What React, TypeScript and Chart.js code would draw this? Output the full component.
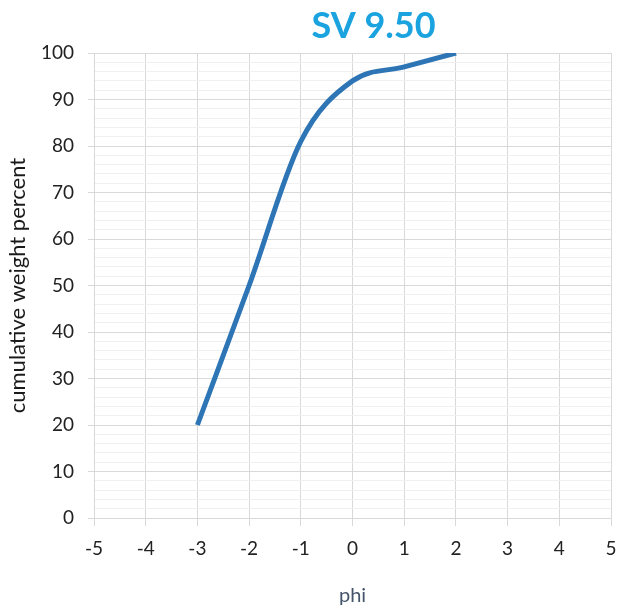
import React, { useEffect, useRef } from "react";
import { Chart, registerables } from "chart.js";

Chart.register(...registerables);

// Cumulative grain-size curve for sample SV 9.50
const phiValues = [-3, -2, -1, 0, 1, 2];
const cumulativePercent = [20, 50, 81, 94, 97, 100];

const chartTitle = "SV 9.50";
const xAxisTitle = "phi";
const yAxisTitle = "cumulative weight percent";

const FONT = "Lato, sans-serif";

// Draws the chart heading in the top padding band
const headingPlugin = {
  id: "heading",
  afterDraw(chart: Chart) {
    const { ctx, chartArea } = chart;
    ctx.save();
    ctx.font = `bold 36px ${FONT}`;
    ctx.fillStyle = "#1BA3E0";
    ctx.textAlign = "center";
    ctx.textBaseline = "middle";
    ctx.fillText(chartTitle, (chartArea.left + chartArea.right) / 2 + 21, 26);
    ctx.restore();
  },
};

export default function App() {
  const canvasRef = useRef<HTMLCanvasElement | null>(null);

  useEffect(() => {
    if (!canvasRef.current) return;
    const chart = new Chart(canvasRef.current, {
      type: "line",
      data: {
        datasets: [
          {
            data: phiValues.map((x, i) => ({ x, y: cumulativePercent[i] })),
            borderColor: "#2E75B6",
            borderWidth: 5,
            pointRadius: 0,
            tension: 0.4,
            cubicInterpolationMode: "monotone",
            fill: false,
          },
        ],
      },
      options: {
        animation: false,
        responsive: true,
        maintainAspectRatio: false,
        layout: { padding: { top: 53, right: 7, left: 0, bottom: 0 } },
        plugins: {
          legend: { display: false },
          tooltip: { enabled: false },
          title: { display: false },
        },
        scales: {
          x: {
            type: "linear",
            min: -5,
            max: 5,
            afterFit: (scale: any) => {
              scale.height = 96;
              scale.paddingLeft = 0;
              scale.paddingRight = 0;
            },
            ticks: {
              stepSize: 1,
              color: "#222222",
              font: { family: FONT, size: 19 },
              padding: 11,
            },
            grid: {
              color: "#D9D9D9",
              lineWidth: 1,
              tickLength: 8,
              tickColor: "#D9D9D9",
            },
            border: { color: "#D9D9D9" },
            title: {
              display: true,
              text: xAxisTitle,
              color: "#44546A",
              font: { family: FONT, size: 20 },
              padding: { top: 0, bottom: 6 },
            },
          },
          y: {
            type: "linear",
            min: 0,
            max: 100,
            afterFit: (scale: any) => {
              scale.width = 94;
              scale.paddingTop = 0;
              scale.paddingBottom = 0;
            },
            ticks: {
              stepSize: 2,
              autoSkip: false,
              color: "#222222",
              font: { family: FONT, size: 19 },
              padding: 14,
              callback: (v: any) => (Number(v) % 10 === 0 ? String(v) : ""),
            },
            grid: {
              color: (ctx: any) =>
                ctx.tick && ctx.tick.value % 10 === 0 ? "#D9D9D9" : "#F0F0F0",
              tickColor: (ctx: any) =>
                ctx.tick && ctx.tick.value % 10 === 0 ? "#D9D9D9" : "rgba(0,0,0,0)",
              lineWidth: 1,
              tickLength: 6,
            },
            border: { color: "#D9D9D9" },
            title: {
              display: true,
              text: yAxisTitle,
              color: "#1A1A1A",
              font: { family: FONT, size: 22 },
              padding: { top: 5, bottom: 0 },
            },
          },
        },
      },
      plugins: [headingPlugin],
    });
    return () => chart.destroy();
  }, []);

  return (
    <div style={{ position: "fixed", left: 0, top: 0, width: 618, height: 614, background: "#fff" }}>
      <canvas ref={canvasRef} />
    </div>
  );
}
